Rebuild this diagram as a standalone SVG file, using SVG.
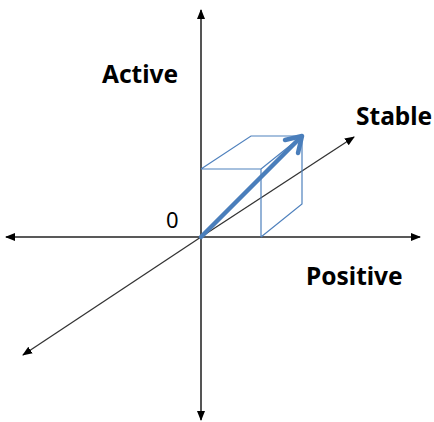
<svg xmlns="http://www.w3.org/2000/svg" width="434" height="422" viewBox="0 0 434 422">
<style>
.lbl{font-family:"Noto Sans","Liberation Sans",sans-serif;font-weight:bold;font-size:24.5px;fill:#000}
.zero{font-family:"Noto Sans","Liberation Sans",sans-serif;font-size:22px;fill:#000}
.cube{fill:none;stroke:#4f81bd;stroke-width:1.2}
</style>
<defs>
<marker id="ah" viewBox="0 0 10 10" refX="9" refY="5" markerWidth="10" markerHeight="10" markerUnits="userSpaceOnUse" orient="auto">
<path d="M0,1 L10,5 L0,9 z" fill="#000"/>
</marker>
</defs>
<g id="connectors">
<line x1="201" y1="237" x2="201" y2="10" stroke="#555" stroke-width="2" marker-end="url(#ah)"/>
<line x1="201" y1="237" x2="201" y2="420" stroke="#555" stroke-width="2" marker-end="url(#ah)"/>
<line x1="201" y1="237" x2="6" y2="237" stroke="#222" stroke-width="1.5" marker-end="url(#ah)"/>
<line x1="201" y1="237" x2="420" y2="237" stroke="#222" stroke-width="1.5" marker-end="url(#ah)"/>
<line x1="201" y1="237" x2="23" y2="355" stroke="#333" stroke-width="1.3" marker-end="url(#ah)"/>
<line x1="201" y1="237" x2="354" y2="137" stroke="#333" stroke-width="1.3" marker-end="url(#ah)"/>
</g>
<g id="cube">
<path class="cube" d="M201,169 L261,169 L261,237 M201,169 L251,136 L302,136 L302,204 L261,237 M261,169 L302,136"/>
</g>
<g id="vector">
<line x1="201" y1="237" x2="300" y2="138" stroke="#4a7ebb" stroke-width="4.5" stroke-linecap="round"/>
<path d="M285,140 L302,136 L298,153" fill="none" stroke="#4a7ebb" stroke-width="4.5" stroke-linecap="round" stroke-linejoin="round"/>
</g>
<g id="label-active"><text class="lbl" x="102" y="83">Active</text></g>
<g id="label-stable"><text class="lbl" x="356" y="125">Stable</text></g>
<g id="label-positive"><text class="lbl" x="306" y="285">Positive</text></g>
<g id="label-zero"><text class="zero" x="166" y="228">0</text></g>
</svg>
